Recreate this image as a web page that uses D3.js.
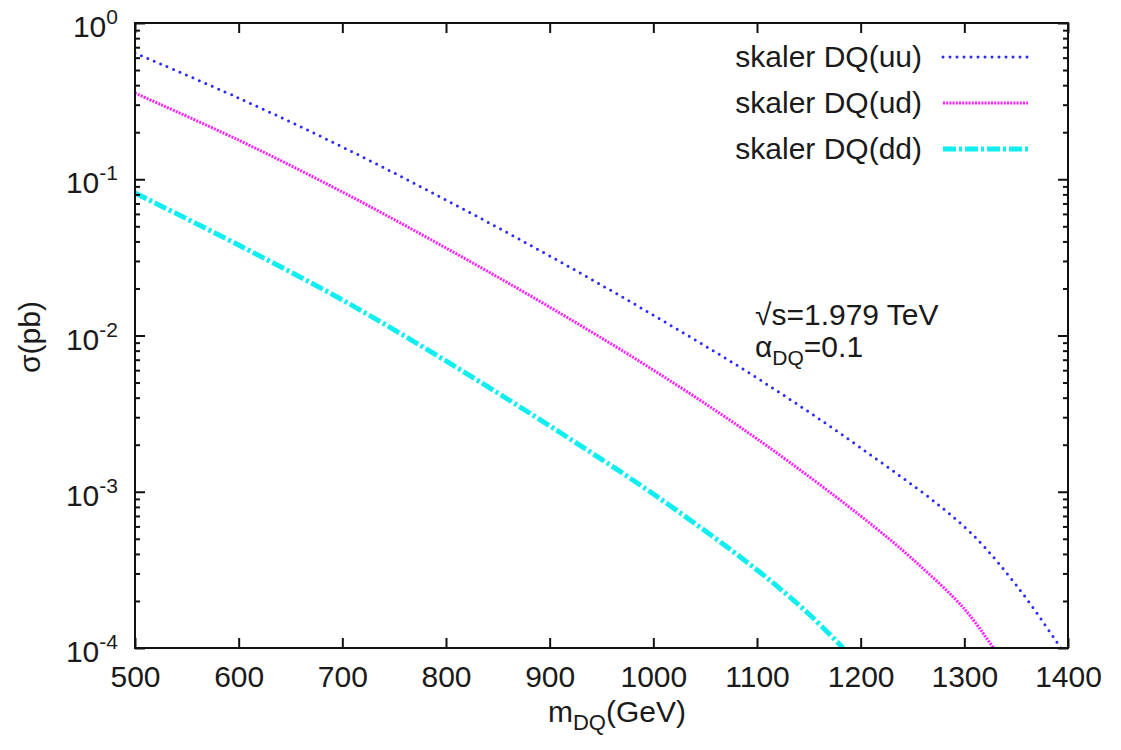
<!DOCTYPE html>
<html>
<head>
<meta charset="utf-8">
<script src="https://cdn.jsdelivr.net/npm/d3@7"></script>
<style>
  html, body { margin: 0; padding: 0; background: #fff; }
  svg { display: block; font-family: "Liberation Sans", Arial, Helvetica, sans-serif; }
  text { fill: #1a1a1a; }
</style>
</head>
<body>
<svg id="chart" width="1121" height="750"></svg>
<script>
// Scalar diquark pair cross sections vs. diquark mass (sqrt(s) = 1.979 TeV, alpha_DQ = 0.1)
const massUU = [500, 600, 700, 800, 900, 1000, 1100, 1200, 1300, 1350, 1393];
const sigmaUU = [0.643, 0.331, 0.161, 0.0737, 0.0323, 0.0135, 0.00535, 0.00191, 5.97e-4, 2.53e-4, 1.0e-4];

const massUD = [500, 600, 700, 800, 900, 1000, 1100, 1200, 1250, 1300, 1328];
const sigmaUD = [0.356, 0.178, 0.0829, 0.0363, 0.0152, 0.00601, 0.00218, 7.0e-4, 3.71e-4, 1.78e-4, 1.0e-4];

const massDD = [500, 600, 700, 800, 900, 1000, 1100, 1150, 1183];
const sigmaDD = [0.0817, 0.0379, 0.0169, 0.00687, 0.00264, 9.67e-4, 3.16e-4, 1.65e-4, 1.0e-4];

const seriesNames = ["skaler DQ(uu)", "skaler DQ(ud)", "skaler DQ(dd)"];
const xTicks = [500, 600, 700, 800, 900, 1000, 1100, 1200, 1300, 1400];
const yDecades = [1e-4, 1e-3, 1e-2, 1e-1, 1];
const yExponents = ["-4", "-3", "-2", "-1", "0"];

const svg = d3.select("#chart");
const plotLeft = 135, plotRight = 1068, plotTop = 23, plotBottom = 648;

const x = d3.scaleLinear().domain([500, 1400]).range([plotLeft, plotRight]);
const y = d3.scaleLog().domain([1e-4, 1]).range([plotBottom, plotTop]);

const styles = [
  { color: "#2a2aff", width: 3, dash: "0,7", cap: "round" },
  { color: "#ff22ff", width: 3, dash: "2,1.2", cap: "butt" },
  { color: "#11eef0", width: 5, dash: "13,3,3,3", cap: "butt" }
];

const series = [
  d3.zip(massUU, sigmaUU),
  d3.zip(massUD, sigmaUD),
  d3.zip(massDD, sigmaDD)
];

// clip curves to the plotting frame
svg.append("clipPath").attr("id", "plotclip")
  .append("rect").attr("x", plotLeft).attr("y", plotTop)
  .attr("width", plotRight - plotLeft).attr("height", plotBottom - plotTop);

const line = d3.line()
  .x(d => x(d[0]))
  .y(d => y(d[1]))
  .curve(d3.curveCatmullRom.alpha(0.5));

svg.append("g").attr("clip-path", "url(#plotclip)")
  .selectAll("path").data(series).join("path")
  .attr("d", line)
  .attr("fill", "none")
  .attr("stroke", (d, i) => styles[i].color)
  .attr("stroke-width", (d, i) => styles[i].width)
  .attr("stroke-dasharray", (d, i) => styles[i].dash)
  .attr("stroke-linecap", (d, i) => styles[i].cap);

// axes: inward ticks on all four sides
const fontSize = 30;
const minorTicks = y.ticks().filter(v => !yDecades.some(p => Math.abs(p - v) / p < 1e-9));

function styleAxis(g) {
  g.select(".domain").remove();
  g.selectAll(".tick line").attr("stroke", "#111").attr("stroke-width", 2);
}

svg.append("g").attr("transform", `translate(0,${plotBottom})`)
  .call(d3.axisBottom(x).tickValues(xTicks).tickSize(-10).tickPadding(30).tickFormat(d3.format("d")))
  .call(styleAxis)
  .call(g => g.selectAll(".tick text").attr("font-size", fontSize).attr("fill", "#1a1a1a")
    .attr("font-family", "Liberation Sans, Arial, sans-serif").attr("dy", "0.3em"));

svg.append("g").attr("transform", `translate(0,${plotTop})`)
  .call(d3.axisTop(x).tickValues(xTicks).tickSize(-10).tickFormat(""))
  .call(styleAxis);

svg.append("g").attr("transform", `translate(${plotLeft},0)`)
  .call(d3.axisLeft(y).tickValues(yDecades).tickSize(-10).tickFormat(""))
  .call(styleAxis);
svg.append("g").attr("transform", `translate(${plotLeft},0)`)
  .call(d3.axisLeft(y).tickValues(minorTicks).tickSize(-5).tickFormat(""))
  .call(styleAxis);
svg.append("g").attr("transform", `translate(${plotRight},0)`)
  .call(d3.axisRight(y).tickValues(yDecades).tickSize(-10).tickFormat(""))
  .call(styleAxis);
svg.append("g").attr("transform", `translate(${plotRight},0)`)
  .call(d3.axisRight(y).tickValues(minorTicks).tickSize(-5).tickFormat(""))
  .call(styleAxis);

// y tick labels as powers of ten
const yLab = svg.append("g").selectAll("text").data(yDecades).join("text")
  .attr("x", 118)
  .attr("y", d => y(d) + 14)
  .attr("text-anchor", "end")
  .attr("font-size", fontSize);
yLab.append("tspan").text("10");
yLab.append("tspan").attr("dy", -13).attr("font-size", 21).text((d, i) => yExponents[i]);

// frame
svg.append("rect")
  .attr("x", plotLeft).attr("y", plotTop)
  .attr("width", plotRight - plotLeft).attr("height", plotBottom - plotTop)
  .attr("fill", "none").attr("stroke", "#111").attr("stroke-width", 2);

// axis titles
const xt = svg.append("text").attr("x", 617).attr("y", 722)
  .attr("text-anchor", "middle").attr("font-size", fontSize);
xt.append("tspan").text("m");
xt.append("tspan").attr("dy", 8).attr("font-size", 22).text("DQ");
xt.append("tspan").attr("dy", -8).text("(GeV)");

svg.append("text")
  .attr("transform", "translate(40,337) rotate(-90)")
  .attr("text-anchor", "middle").attr("font-size", fontSize)
  .text("σ(pb)");

// legend
const legend = svg.append("g").selectAll("g").data(seriesNames).join("g")
  .attr("transform", (d, i) => `translate(0,${57 + i * 46})`);
legend.append("text")
  .attr("x", 922).attr("y", 10)
  .attr("text-anchor", "end").attr("font-size", fontSize)
  .text(d => d);
legend.append("line")
  .attr("x1", 943).attr("x2", 1028).attr("y1", 0).attr("y2", 0)
  .attr("stroke", (d, i) => styles[i].color)
  .attr("stroke-width", (d, i) => styles[i].width)
  .attr("stroke-dasharray", (d, i) => styles[i].dash)
  .attr("stroke-linecap", (d, i) => styles[i].cap);

// run parameters
const noteSize = 30;
svg.append("text").attr("x", 755).attr("y", 325).attr("font-size", noteSize)
  .text("√s=1.979 TeV");
const al = svg.append("text").attr("x", 755).attr("y", 357).attr("font-size", noteSize);
al.append("tspan").text("α");
al.append("tspan").attr("dy", 8).attr("font-size", 21).text("DQ");
al.append("tspan").attr("dy", -8).text("=0.1");
</script>
</body>
</html>
